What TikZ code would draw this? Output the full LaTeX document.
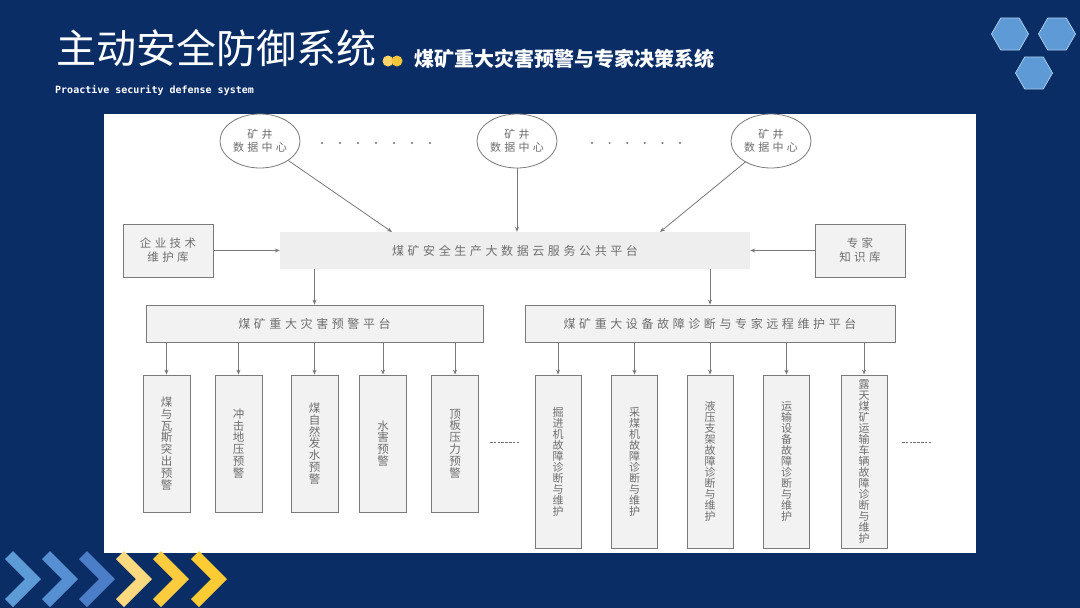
\documentclass[tikz,border=0pt]{standalone}
\usepackage{fontspec}
\setmainfont{Noto Sans CJK SC}
\newfontfamily\cjk{Noto Sans CJK SC}
\newfontfamily\cjksp[LetterSpace=30]{Noto Sans CJK SC}
\newfontfamily\monofnt{DejaVu Sans Mono}
\usetikzlibrary{shapes.geometric,arrows.meta}
\definecolor{navy}{HTML}{0B2D66}
\definecolor{hexfill}{HTML}{5E9BD6}
\definecolor{hexline}{HTML}{A9CBEA}
\definecolor{linegray}{HTML}{7A7A7A}
\definecolor{textgray}{HTML}{6E6E6E}
\definecolor{boxfill}{HTML}{F2F2F2}
\definecolor{cenfill}{HTML}{EEEEEE}
\definecolor{chA}{HTML}{5C9BD6}
\definecolor{chB}{HTML}{5690D2}
\definecolor{chC}{HTML}{4C7DC8}
\definecolor{chD}{HTML}{FBD97F}
\definecolor{chE}{HTML}{FCCC3E}
\definecolor{chF}{HTML}{FDCB33}
\definecolor{dotA}{HTML}{FBD56A}
\definecolor{dotB}{HTML}{F6C63A}
\begin{document}
\begin{tikzpicture}[x=1pt,y=-1pt,
  box/.style={draw=linegray, fill=boxfill, line width=0.8pt, inner sep=0pt, text=textgray},
  vboxl/.style={box, minimum width=47pt, minimum height=137pt, align=center, font=\cjk\fontsize{11.5}{11.8}\selectfont},
  vboxr/.style={box, minimum width=46pt, minimum height=173pt, align=center, font=\cjk\fontsize{11}{11}\selectfont},
  plat/.style={box, minimum height=37pt, font=\cjksp\fontsize{12}{12}\selectfont},
  side/.style={box, minimum width=90pt, minimum height=53pt, align=center, font=\cjksp\fontsize{11.5}{14}\selectfont},
  center/.style={draw=linegray, fill=white, line width=0.8pt, ellipse, minimum width=80pt, minimum height=54pt, inner sep=0pt, align=center, text=textgray, font=\cjksp\fontsize{11}{12.5}\selectfont},
  arr/.style={draw=linegray, line width=0.8pt, -{Stealth[length=5pt,width=4pt]}},
  hex/.style={regular polygon, regular polygon sides=6, minimum size=37pt, inner sep=0pt, fill=hexfill, draw=hexline, line width=0.8pt}
]
\useasboundingbox (0,0) rectangle (1080,608);
\fill[navy] (0,0) rectangle (1080,608);

% title area
\node[anchor=west, inner sep=0pt, text=white, font=\cjk\fontsize{40}{40}\selectfont] (title) at (56,48) {主动安全防御系统};
\fill[dotA] (388,61) circle (5.5);
\fill[dotB] (397,61) circle (5.5);
\node[anchor=west, inner sep=0pt, text=white, font=\cjk\bfseries\fontsize{20}{20}\selectfont] (subtitle) at (414,59) {煤矿重大灾害预警与专家决策系统};
\node[anchor=west, inner sep=0pt, text=white, font=\monofnt\bfseries\fontsize{10}{10}\selectfont] (eng) at (55,90) {Proactive security defense system};

% hexagons
\node[hex] (h1) at (1010,34) {};
\node[hex] (h2) at (1057,34) {};
\node[hex] (h3) at (1034,73) {};

% white panel
\fill[white] (104,114) rectangle (976,553);

% chevrons
\foreach \x/\c in {5/chA,42/chB,79/chC,116/chD,153/chE,191/chF}
  \fill[\c] (\x,559) -- (\x+8,551) -- (\x+36,579) -- (\x+8,607) -- (\x,599) -- (\x+20,579) -- cycle;

% top data centres
\node[center] (c1) at (260,141) {矿井\\数据中心};
\node[center] (c2) at (517,141) {矿井\\数据中心};
\node[center] (c3) at (771,141) {矿井\\数据中心};
\foreach \i in {0,...,6} \fill[textgray] (322+18*\i,143) circle (1.1);
\foreach \i in {0,...,5} \fill[textgray] (592+17.6*\i,143) circle (1.1);

% cloud platform
\node[fill=cenfill, minimum width=470pt, minimum height=37pt, inner sep=0pt, text=textgray, font=\cjksp\fontsize{12}{12}\selectfont] (central) at (515,250.5) {煤矿安全生产大数据云服务公共平台};
\node[side] (lbox) at (168,250.5) {企业技术\\维护库};
\node[side] (rbox) at (860,250.5) {专家\\知识库};

\coordinate (t1) at (392,232);
\coordinate (t3) at (660,232);
\draw[arr] (c1) -- (t1);
\draw[arr] (c2) -- (c2 |- central.north);
\draw[arr] (c3) -- (t3);
\draw[arr] (lbox.east) -- (central.west);
\draw[arr] (rbox.west) -- (central.east);

% platforms
\node[plat, minimum width=337pt] (lplat) at (314.5,323.5) {煤矿重大灾害预警平台};
\node[plat, minimum width=370pt] (rplat) at (710,323.5) {煤矿重大设备故障诊断与专家远程维护平台};
\draw[arr] (central.south -| lplat.north) -- (lplat.north);
\draw[arr] (central.south -| rplat.north) -- (rplat.north);

% left items
\node[vboxl] (b1) at (166.5,443.5) {煤\\与\\瓦\\斯\\突\\出\\预\\警};
\node[vboxl] (b2) at (238.5,443.5) {冲\\击\\地\\压\\预\\警};
\node[vboxl] (b3) at (314.5,443.5) {煤\\自\\然\\发\\水\\预\\警};
\node[vboxl] (b4) at (383,443.5) {水\\害\\预\\警};
\node[vboxl] (b5) at (455,443.5) {顶\\板\\压\\力\\预\\警};
\foreach \b in {b1,b2,b3,b4,b5}
  \draw[arr] (lplat.south -| \b.north) -- (\b.north);

% right items
\node[vboxr] (r1) at (558,461.5) {掘\\进\\机\\故\\障\\诊\\断\\与\\维\\护};
\node[vboxr] (r2) at (634.5,461.5) {采\\煤\\机\\故\\障\\诊\\断\\与\\维\\护};
\node[vboxr] (r3) at (710,461.5) {液\\压\\支\\架\\故\\障\\诊\\断\\与\\维\\护};
\node[vboxr] (r4) at (786.5,461.5) {运\\输\\设\\备\\故\\障\\诊\\断\\与\\维\\护};
\node[vboxr] (r5) at (864,461.5) {露\\天\\煤\\矿\\运\\输\\车\\辆\\故\\障\\诊\\断\\与\\维\\护};
\foreach \b in {r1,r2,r3,r4,r5}
  \draw[arr] (rplat.south -| \b.north) -- (\b.north);

% continuation dashes
\draw[textgray, line width=0.7pt, dash pattern=on 2.5pt off 1.3pt] (490,442) -- (519,442);
\draw[textgray, line width=0.7pt, dash pattern=on 2.5pt off 1.3pt] (902,442) -- (931,442);
\end{tikzpicture}
\end{document}
